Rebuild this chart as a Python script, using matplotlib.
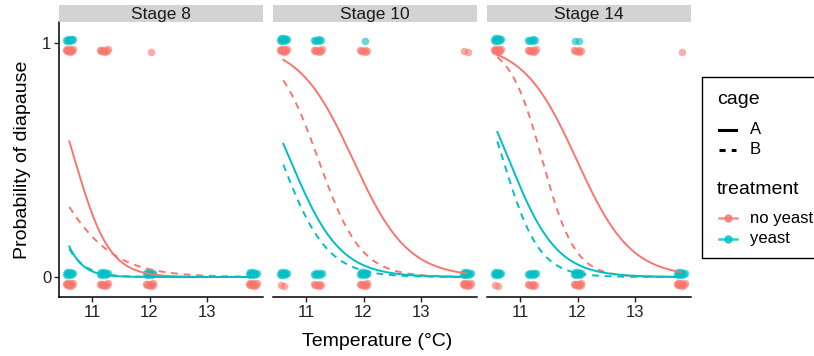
import numpy as np
import matplotlib
matplotlib.use("Agg")
import matplotlib.pyplot as plt
from matplotlib.lines import Line2D
from matplotlib.patches import Rectangle

plt.rcParams['font.family'] = ['Liberation Sans', 'DejaVu Sans']

# Данные
stages = ['Stage 8', 'Stage 10', 'Stage 14']
temps = [10.6, 11.2, 12.0, 13.8]
treatments = ['no yeast', 'yeast']
cages = ['A', 'B']
colors = {'no yeast': '#F8766D', 'yeast': '#00BFC4'}

# число особей в диапаузе (1) и без диапаузы (0) при каждой температуре
n_diap = {
    'no yeast': [[10, 8, 1, 0], [10, 8, 6, 2], [10, 8, 6, 1]],
    'yeast':    [[8, 0, 0, 0], [10, 6, 1, 0], [10, 6, 2, 0]],
}
n_nodiap = {
    'no yeast': [[10, 8, 8, 10], [2, 6, 8, 10], [2, 6, 8, 10]],
    'yeast':    [[10, 10, 10, 10], [10, 8, 10, 10], [10, 8, 10, 10]],
}

# логистическая модель: logit(p) = a + b * (T - 10.6)
fit_a = {
    ('no yeast', 'A'): [0.32, 2.56, 2.94],
    ('no yeast', 'B'): [-0.85, 1.66, 2.75],
    ('yeast', 'A'):    [-1.9, 0.28, 0.49],
    ('yeast', 'B'):    [-2.0, -0.08, 0.32],
}
fit_b = {
    ('no yeast', 'A'): [-3.3, -2.1, -2.12],
    ('no yeast', 'B'): [-1.8, -2.7, -3.5],
    ('yeast', 'A'):    [-4.5, -2.3, -2.4],
    ('yeast', 'B'):    [-3.8, -2.5, -3.15],
}

W, H = 814, 356
fig = plt.figure(figsize=(W / 100, H / 100), dpi=100)

lefts = [59, 273, 487]
pw = 204
ptop, pbot = 22, 297


def jitter(k, width):
    # детерминированный разброс точек
    return ((k * 0.6180339887) % 1 - 0.5) * 2 * width


for i, stage in enumerate(stages):
    ax = fig.add_axes([lefts[i] / W, (H - pbot) / H, pw / W, (pbot - ptop) / H])
    ax.set_xlim(10.42, 13.98)
    ax.set_ylim(-0.0855, 1.09)

    # точки
    for tr in treatments:
        shift = -0.024 if tr == 'no yeast' else 0.022
        xs, ys = [], []
        for outcome, counts in ((1, n_diap[tr][i]), (0, n_nodiap[tr][i])):
            for t, n in zip(temps, counts):
                for k in range(n):
                    xs.append(t + jitter(k + 1, 0.075))
                    ys.append(outcome + shift + jitter(k * 1.7 + 3.3, 0.014))
        ax.scatter(xs, ys, s=30, color=colors[tr], alpha=0.6, linewidths=0, zorder=2)

    # кривые
    tt = np.linspace(10.6, 13.8, 200)
    for tr in treatments:
        for cg in cages:
            a = fit_a[(tr, cg)][i]
            b = fit_b[(tr, cg)][i]
            p = 1 / (1 + np.exp(-(a + b * (tt - 10.6))))
            ax.plot(tt, p, color=colors[tr], lw=1.4,
                    linestyle='-' if cg == 'A' else (0, (3.5, 3)), zorder=3)

    for s in ['top', 'right']:
        ax.spines[s].set_visible(False)
    ax.spines['bottom'].set_linewidth(1.1)
    ax.set_xticks([11, 12, 13])
    ax.tick_params(axis='x', length=3.5, width=1.0, labelsize=12, pad=2, colors='#222222')
    if i == 0:
        ax.spines['left'].set_linewidth(1.1)
        ax.set_yticks([0, 1])
        ax.set_yticklabels(['0', '1'])
        ax.tick_params(axis='y', length=3.5, width=1.0, labelsize=12, pad=2, colors='#222222')
    else:
        ax.spines['left'].set_visible(False)
        ax.set_yticks([])

    # полоса с названием стадии
    st = fig.add_axes([lefts[i] / W, (H - ptop) / H, pw / W, 17 / H])
    st.set_facecolor('#D3D3D3')
    st.set_xticks([])
    st.set_yticks([])
    for s in st.spines.values():
        s.set_visible(False)
    st.text(0.5, 0.42, stage, ha='center', va='center', fontsize=12.5,
            color='#1a1a1a', transform=st.transAxes)

fig.text(377 / W, (H - 342) / H, 'Temperature (°C)', ha='center', va='center', fontsize=14)
fig.text(23 / W, (H - 160) / H, 'Probability of diapause', ha='center', va='center',
         rotation=90, fontsize=14)

# легенда
fig.patches.append(Rectangle((702 / W, (H - 258) / H), 130 / W, 181 / H,
                             transform=fig.transFigure, facecolor='white',
                             edgecolor='black', lw=1.0))


def fx(px):
    return px / W


def fy(py):
    return (H - py) / H


fig.text(fx(717), fy(99), 'cage', ha='left', va='center', fontsize=14)
for cg, py in zip(cages, [130, 150]):
    fig.add_artist(Line2D([fx(719), fx(736)], [fy(py), fy(py)], color='black', lw=2.2,
                          linestyle='-' if cg == 'A' else (0, (2, 2))))
    fig.text(fx(750), fy(py), cg, ha='left', va='center', fontsize=12)

fig.text(fx(717), fy(189), 'treatment', ha='left', va='center', fontsize=14)
for tr, py in zip(treatments, [218, 239]):
    fig.add_artist(Line2D([fx(719), fx(737)], [fy(py), fy(py)], color=colors[tr], lw=1.8,
                          alpha=0.8))
    fig.add_artist(Line2D([fx(728)], [fy(py)], color=colors[tr], marker='o', markersize=5,
                          linestyle='none', alpha=0.8))
    fig.text(fx(750), fy(py), tr, ha='left', va='center', fontsize=12)

plt.savefig('out.png', dpi=100)
